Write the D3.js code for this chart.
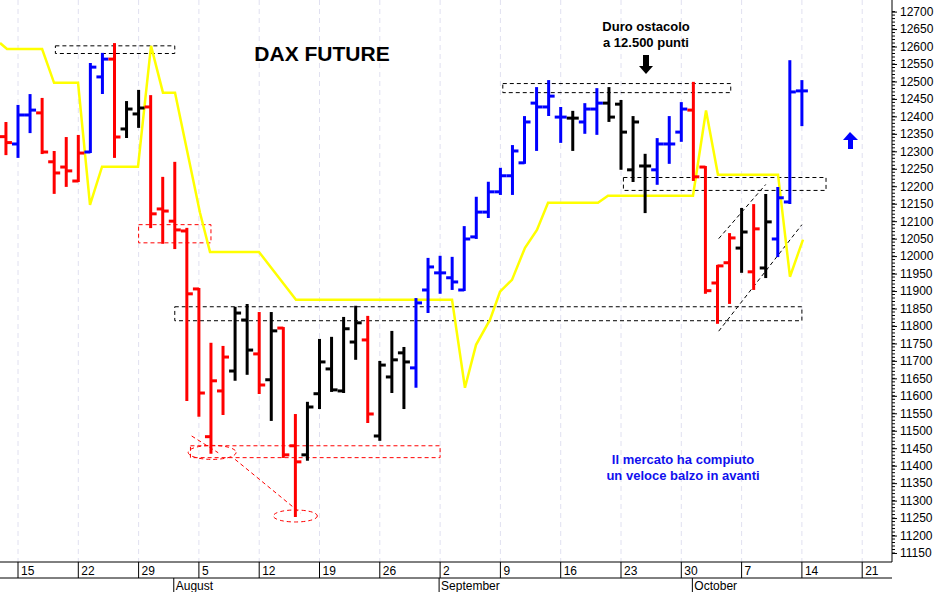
<!DOCTYPE html>
<html><head><meta charset="utf-8">
<script src="https://cdn.jsdelivr.net/npm/d3@7"></script>
<style>body{margin:0;background:#fff}svg{display:block}text{font-family:Arial,"Liberation Sans",sans-serif}</style>
</head><body><svg id="c" width="942" height="592"></svg>
<script>
// trading day index: 0 = Jul 15 (Mon)
const dates = ["Jul12","Jul15","Jul16","Jul17","Jul18","Jul19","Jul22","Jul23","Jul24","Jul25","Jul26","Jul29","Jul30","Jul31","Aug1","Aug2","Aug5","Aug6","Aug7","Aug8","Aug9","Aug12","Aug13","Aug14","Aug15","Aug16","Aug19","Aug20","Aug21","Aug22","Aug23","Aug26","Aug27","Aug28","Aug29","Aug30","Sep2","Sep3","Sep4","Sep5","Sep6","Sep9","Sep10","Sep11","Sep12","Sep13","Sep16","Sep17","Sep18","Sep19","Sep20","Sep23","Sep24","Sep25","Sep26","Sep27","Sep30","Oct1","Oct2","Oct3","Oct4","Oct7","Oct8","Oct9","Oct10","Oct11","Oct14"];
const open  = [12342,12321,12404,12410,12270,12255,12215,12298,12513,12564,12364,12407,12427,12135,12100,12072,11906,11483,11614,11671,11817,11720,11646,11794,11457,11431,11606,11677,11614,11754,11760,11485,11654,11723,11680,11903,11952,11938,11903,12055,12126,12184,12230,12267,12438,12427,12398,12395,12384,12421,12438,12435,12247,12258,12247,12321,12355,12418,12255,11923,11981,12023,11955,11966,12049,12155,12473];
const high  = [12381,12430,12461,12450,12298,12338,12344,12550,12579,12607,12441,12473,12458,12224,12267,12078,11906,11749,11740,11852,11860,11837,11837,11794,11545,11580,11760,11766,11823,11855,11826,11697,11783,11737,11877,11992,11998,11995,12083,12167,12210,12250,12315,12398,12481,12501,12424,12413,12435,12478,12481,12444,12398,12290,12335,12398,12438,12496,12255,11972,12063,12135,12146,12175,12195,12558,12501];
const low   = [12292,12284,12355,12295,12181,12201,12215,12298,12467,12284,12341,12370,12083,12038,12023,11588,11543,11437,11548,11646,11663,11608,11531,11425,11256,11417,11565,11614,11611,11706,11525,11474,11611,11565,11626,11840,11895,11906,11903,12052,12112,12178,12178,12267,12304,12404,12327,12304,12353,12350,12387,12250,12215,12126,12207,12267,12330,12218,11895,11809,11866,11955,11906,11940,12000,12152,12375];
const close = [12325,12404,12418,12298,12238,12244,12295,12541,12564,12341,12421,12424,12121,12129,12075,11892,11608,11643,11711,11837,11731,11631,11786,11431,11411,11568,11697,11617,11792,11809,11548,11688,11703,11697,11866,11969,11952,11926,12049,12126,12184,12230,12301,12384,12427,12458,12398,12395,12421,12438,12398,12355,12384,12258,12321,12321,12421,12227,11901,11972,12052,12069,12078,12098,12167,12470,12473];
const colorCode = "rbbrrrrbbrkkrrrrrrrkkrkrrkkkkkrkkkbbbbbbbbbbbbbkbbkkkkbbbrrrrkrkbbb";
// trend line (yellow): [trading index, value]
const trendIdx = [-1.49,-0.91,2.0,2.99,4.98,5.97,6.97,9.95,11.03,12.02,13.02,15.09,15.92,19.98,23.05,35.99,37.06,37.98,39.14,39.97,40.96,42.04,43.03,43.95,48.09,48.92,55.97,57.05,58.04,63.02,64.01,65.09];
const trendVal = [12610,12593,12593,12496,12496,12147,12256,12256,12602,12468,12468,12124,12012,12012,11875,11875,11623,11746,11818,11898,11932,12024,12075,12153,12153,12173,12173,12417,12233,12233,11941,12047];
const weekLabels = ["15","22","29","5","12","19","26","2","9","16","23","30","7","14","21"];
const monthLabels = [["August",13],["September",35],["October",56]];
const yTicks = d3.range(11150,12701,50);

const svg = d3.select("#c");
const x = d3.scaleLinear().domain([0,1]).range([18,30.06]);
const y = d3.scaleLinear().domain([11150,12700]).range([553,11.6]);
const colMap = {r:"#ff0000",b:"#0000ff",k:"#000000"};

const mondays = weekLabels.map((d,i)=>i*5);
svg.append("g").selectAll("line").data(mondays).join("line")
  .attr("x1",d=>x(d)).attr("x2",d=>x(d)).attr("y1",0).attr("y2",562)
  .attr("stroke","#e0e0f0").attr("stroke-dasharray","5,4");

const ya = svg.append("g").attr("transform","translate(892,0)")
  .call(d3.axisRight(y).tickValues(yTicks).tickSize(5).tickFormat(d3.format("d")));
ya.select(".domain").attr("d","M0,0V562");
ya.selectAll("text").attr("font-size",12).attr("font-family","Arial").attr("fill","#000");
ya.append("g").selectAll("line").data(d3.range(11150,12701,10)).join("line")
  .attr("x1",0).attr("x2",3).attr("y1",d=>y(d)).attr("y2",d=>y(d)).attr("stroke","#000");

const ax = svg.append("g");
ax.append("line").attr("x1",0).attr("x2",892).attr("y1",562).attr("y2",562).attr("stroke","#000");
ax.append("line").attr("x1",0).attr("x2",892).attr("y1",578).attr("y2",578).attr("stroke","#000");
ax.selectAll(".wk").data(weekLabels).join("g").each(function(d,i){
  const g=d3.select(this), px=x(i*5);
  g.append("line").attr("x1",px).attr("x2",px).attr("y1",562).attr("y2",578).attr("stroke","#000");
  g.append("text").attr("x",px+3).attr("y",575).attr("font-size",12).text(d);
});
monthLabels.forEach(([m,i])=>{
  const px=x(i)-1;
  ax.append("line").attr("x1",px).attr("x2",px).attr("y1",578).attr("y2",592).attr("stroke","#000");
  ax.append("text").attr("x",px+2).attr("y",590).attr("font-size",12).text(m);
});

const plot = svg.append("g");
function box(i0,i1,v0,v1,c){plot.append("rect").attr("x",x(i0)).attr("y",y(v0)).attr("width",x(i1)-x(i0)).attr("height",y(v1)-y(v0))
  .attr("fill","none").attr("stroke",c).attr("stroke-dasharray","4,3");}
box(3.1,13,12602,12580,"#000");
box(10,16,12090,12038,"#f00");
box(13,65,11855,11815,"#000");
box(14.3,35,11457,11423,"#f00");
box(40.2,59.1,12494,12468,"#000");
box(50.2,67,12225,12188,"#000");
function dl(i0,v0,i1,v1,c){plot.append("line").attr("x1",x(i0)).attr("y1",y(v0)).attr("x2",x(i1)).attr("y2",y(v1))
  .attr("stroke",c).attr("stroke-dasharray","4,3");}
dl(58.1,12050,62,12205,"#000");
dl(58.1,11785,65,12090,"#000");
dl(14.4,11485,16.6,11437,"#f00");
dl(18,11418,23.4,11265,"#f00");
plot.append("ellipse").attr("cx",x(16.1)).attr("cy",y(11438)).attr("rx",24).attr("ry",7).attr("fill","none").attr("stroke","#f00").attr("stroke-dasharray","4,3");
plot.append("ellipse").attr("cx",x(23)).attr("cy",y(11256)).attr("rx",22).attr("ry",6).attr("fill","none").attr("stroke","#f00").attr("stroke-dasharray","4,3");

const tr = trendIdx.map((d,i)=>[d,trendVal[i]]);
plot.append("path").attr("d",d3.line().x(d=>x(d[0])).y(d=>y(d[1]))(tr))
  .attr("fill","none").attr("stroke","#ffff00").attr("stroke-width",2.5);

dates.forEach((d,k)=>{
  const i=k-1, c=colMap[colorCode[k]], px=x(i);
  const g=plot.append("g").attr("stroke",c).attr("stroke-width",3);
  g.append("line").attr("x1",px).attr("x2",px).attr("y1",y(high[k])-1).attr("y2",y(low[k])+1);
  g.append("line").attr("x1",px-6).attr("x2",px).attr("y1",y(open[k])).attr("y2",y(open[k]));
  g.append("line").attr("x1",px).attr("x2",px+6).attr("y1",y(close[k])).attr("y2",y(close[k]));
});

svg.append("text").attr("x",322).attr("y",61).attr("text-anchor","middle").attr("font-size",21).attr("font-weight","bold").text("DAX FUTURE");
svg.append("text").attr("x",646).attr("y",31).attr("text-anchor","middle").attr("font-size",13).attr("font-weight","bold").attr("font-family","Verdana, DejaVu Sans").text("Duro ostacolo");
svg.append("text").attr("x",646).attr("y",47).attr("text-anchor","middle").attr("font-size",13).attr("font-weight","bold").attr("font-family","Verdana, DejaVu Sans").text("a 12.500 punti");
svg.append("path").attr("d","M643,55V66H639L646,74L653,66H649V55Z").attr("fill","#000");
svg.append("text").attr("x",683).attr("y",464).attr("text-anchor","middle").attr("font-size",13).attr("font-weight","bold").attr("fill","#1010ee").attr("font-family","Verdana, DejaVu Sans").text("Il mercato ha compiuto");
svg.append("text").attr("x",683).attr("y",480).attr("text-anchor","middle").attr("font-size",13).attr("font-weight","bold").attr("fill","#1010ee").attr("font-family","Verdana, DejaVu Sans").text("un veloce balzo in avanti");
svg.append("path").attr("d","M850,132L843,140H848V149H853V140H858Z").attr("fill","#0000ff");
</script></body></html>
